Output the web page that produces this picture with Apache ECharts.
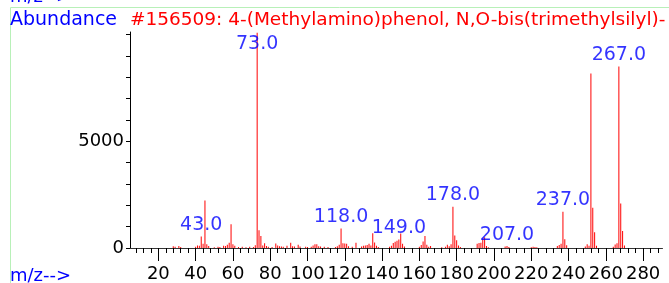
<!DOCTYPE html>
<html>
<head>
<meta charset="utf-8">
<script src="https://cdn.jsdelivr.net/npm/echarts@6/dist/echarts.min.js"></script>
<style>
  html, body { margin: 0; padding: 0; background: #fff; }
  #main { width: 669px; height: 283px; }
</style>
</head>
<body>
<div id="main"></div>
<script>
// spectrum: m/z and abundance
var mzList = [28, 29, 31, 32, 40, 41, 42, 43, 44, 45, 46, 47, 50, 52, 53, 55, 56, 57, 58, 59,
  60, 61, 63, 65, 67, 69, 71, 72, 73, 74, 75, 76, 77, 78, 79, 81, 83, 84, 85, 86,
  87, 89, 91, 92, 93, 95, 96, 99, 100, 102, 103, 104, 105, 106, 107, 109, 111, 115, 116, 117,
  118, 119, 120, 121, 122, 124, 126, 129, 130, 131, 132, 133, 134, 135, 136, 137, 138, 144, 145, 146,
  147, 148, 149, 150, 151, 152, 160, 161, 162, 163, 164, 165, 166, 172, 174, 175, 176, 177, 178, 179,
  180, 181, 182, 191, 192, 193, 194, 195, 196, 197, 206, 207, 208, 220, 221, 222, 223, 234, 235, 236,
  237, 238, 239, 249, 250, 251, 252, 253, 254, 255, 264, 265, 266, 267, 268, 269, 270];
var abundList = [80, 60, 90, 50, 60, 120, 100, 540, 200, 2230, 170, 90, 40, 60, 50, 110, 90, 150, 250, 1110,
  170, 100, 50, 60, 40, 60, 50, 130, 10080, 830, 560, 120, 220, 90, 60, 50, 210, 120, 80, 70,
  60, 100, 250, 80, 70, 150, 70, 60, 50, 60, 120, 170, 170, 80, 70, 60, 50, 50, 80, 150,
  910, 220, 210, 200, 80, 60, 250, 70, 100, 120, 140, 200, 120, 690, 260, 110, 50, 60, 100, 240,
  290, 340, 400, 680, 200, 70, 60, 140, 300, 560, 150, 60, 90, 40, 60, 150, 80, 180, 1935, 590,
  360, 120, 50, 200, 240, 250, 440, 500, 90, 40, 70, 90, 50, 40, 60, 50, 40, 90, 140, 200,
  1700, 410, 130, 70, 170, 100, 8180, 1890, 740, 100, 60, 160, 220, 8500, 2090, 795, 120];

// peaks that carry a label
var labelMz = [43, 73, 118, 149, 178, 207, 237, 267];

var xLabelValues = [20, 40, 60, 80, 100, 120, 140, 160, 180, 200, 220, 240, 260, 280];
var yLabelValues = [0, 5000];
var yTickValues = [0, 1000, 2000, 3000, 4000, 5000, 6000, 7000, 8000, 9000, 10000];

var minorTicks = [];
for (var t = 8; t <= 288; t += 4) minorTicks.push(t);

var peaks = mzList.map(function (m, i) { return [m, abundList[i]]; });
var labelPoints = labelMz.map(function (m) {
  var item = { value: [m, abundList[mzList.indexOf(m)]] };
  if (m === 73) item.label = { offset: [0, 23] };
  return item;
});

var chartDom = document.getElementById('main');
var myChart = echarts.init(chartDom);
var font = 'DejaVu Sans';
var option = {
  animation: false,
  grid: { left: 130, right: 6.5, top: 32, bottom: 34.3 },
  xAxis: [
    {
      type: 'value', min: 4.8, max: 290.4, position: 'bottom',
      axisLine: { lineStyle: { color: '#333', width: 1 } },
      axisTick: { customValues: minorTicks, length: 5, lineStyle: { color: '#000' } },
      axisLabel: { show: false },
      splitLine: { show: false }
    },
    {
      type: 'value', min: 4.8, max: 290.4, position: 'bottom',
      axisLine: { show: false },
      axisTick: { customValues: xLabelValues, length: 13, lineStyle: { color: '#000' } },
      axisLabel: { customValues: xLabelValues, margin: 17, color: '#000', fontSize: 18, fontFamily: font },
      splitLine: { show: false }
    }
  ],
  yAxis: {
    type: 'value', min: 0, max: 10120,
    axisLine: { show: true, lineStyle: { color: '#000', width: 1 } },
    axisTick: { show: true, customValues: yTickValues, length: 4, lineStyle: { color: '#000' } },
    axisLabel: {
      customValues: yLabelValues, margin: 6, color: '#000', fontSize: 18, fontFamily: font,
      formatter: function (v) { return String(v); }
    },
    splitLine: { show: false }
  },
  graphic: [
    { type: 'line', shape: { x1: 10.5, y1: 7.5, x2: 669, y2: 7.5 }, style: { stroke: '#b8f0b8', lineWidth: 1 } },
    { type: 'line', shape: { x1: 10.5, y1: 7.5, x2: 10.5, y2: 283 }, style: { stroke: '#b8f0b8', lineWidth: 1 } },
    { type: 'text', left: 10, top: -12, style: { text: 'm/z-->', fill: '#0000ff', font: '18px "DejaVu Sans"' } },
    { type: 'text', left: 10, top: 11, style: { text: 'Abundance', fill: '#0000ff', font: '19px "DejaVu Sans"' } },
    { type: 'text', left: 130, top: 11, style: { text: '#156509: 4-(Methylamino)phenol, N,O-bis(trimethylsilyl)-', fill: '#ff0000', font: '18.5px "DejaVu Sans"' } },
    { type: 'text', left: 10, top: 267, style: { text: 'm/z-->', fill: '#0000ff', font: '18px "DejaVu Sans"' } }
  ],
  series: [
    {
      type: 'bar',
      data: peaks,
      barWidth: 1,
      itemStyle: { color: '#ff0000' },
      clip: false
    },
    {
      type: 'scatter',
      data: labelPoints,
      symbolSize: 0,
      label: {
        show: true, position: 'top', distance: 2,
        color: '#0000ff', fontSize: 19, fontFamily: font,
        formatter: function (p) { return p.value[0].toFixed(1); }
      }
    }
  ]
};
option && myChart.setOption(option);
</script>
</body>
</html>
